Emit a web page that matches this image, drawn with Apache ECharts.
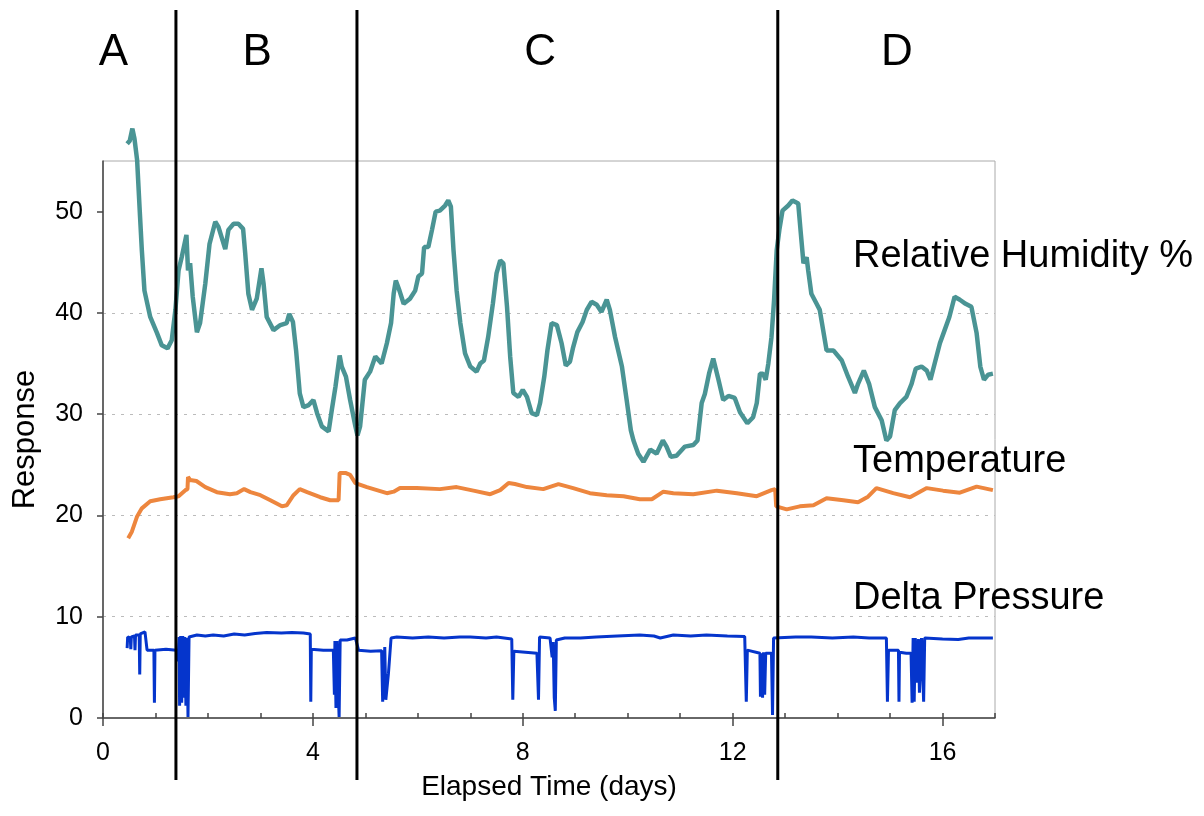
<!DOCTYPE html>
<html>
<head>
<meta charset="utf-8">
<script src="https://cdn.jsdelivr.net/npm/echarts@6/dist/echarts.min.js"></script>
<style>
  html, body { margin: 0; padding: 0; background: #fff; }
  #chart { width: 1204px; height: 816px; }
</style>
</head>
<body>
<div id="chart"></div>
<script>
const FONT = '"Liberation Sans", Arial, Helvetica, sans-serif'

// relative humidity %, [day, value]
const humidity = [
  [0.46,56.7],[0.51,57.0],[0.56,58.2],[0.60,57.2],[0.65,55.1],[0.70,50.1],[0.74,46.2],[0.79,42.2],[0.90,39.6],
  [1.03,38.0],[1.12,36.8],[1.23,36.5],[1.31,37.3],[1.38,40.3],[1.44,44.2],[1.50,45.5],[1.59,47.7],[1.62,44.2],
  [1.66,44.9],[1.71,41.6],[1.79,38.1],[1.85,39.0],[1.95,42.9],[2.03,46.8],[2.14,49.0],[2.20,48.5],[2.33,46.3],
  [2.39,48.2],[2.49,48.8],[2.58,48.8],[2.67,48.3],[2.71,45.9],[2.77,41.9],[2.84,40.3],[2.93,41.4],[3.02,44.4],
  [3.06,42.9],[3.12,39.6],[3.25,38.3],[3.38,38.8],[3.50,39.0],[3.55,39.9],[3.62,39.1],[3.68,36.3],[3.75,32.05],
  [3.82,30.7],[3.92,30.9],[4.01,31.4],[4.08,30.1],[4.17,28.8],[4.30,28.3],[4.36,30.4],[4.43,32.7],[4.51,35.8],
  [4.55,34.7],[4.63,33.7],[4.71,31.4],[4.81,28.8],[4.85,27.9],[4.90,28.8],[4.99,33.4],[5.09,34.2],[5.19,35.7],
  [5.31,35.0],[5.41,37.0],[5.49,39.0],[5.54,41.9],[5.58,43.2],[5.65,42.2],[5.73,40.9],[5.85,41.4],[5.95,42.2],
  [6.01,43.6],[6.08,43.9],[6.12,46.5],[6.20,46.5],[6.27,48.2],[6.34,50.0],[6.42,50.1],[6.52,50.6],[6.58,51.1],
  [6.63,50.5],[6.68,46.2],[6.74,42.2],[6.81,39.0],[6.90,36.0],[7.00,34.7],[7.12,34.2],[7.19,35.0],[7.26,35.3],
  [7.34,37.6],[7.43,40.9],[7.50,43.9],[7.57,45.2],[7.63,44.9],[7.70,40.6],[7.76,35.7],[7.82,32.1],[7.92,31.7],
  [8.00,32.4],[8.08,31.7],[8.17,30.1],[8.27,29.9],[8.33,31.1],[8.41,33.7],[8.47,36.3],[8.55,39.0],[8.65,38.8],
  [8.74,37.0],[8.82,34.8],[8.90,35.2],[8.96,36.6],[9.04,38.1],[9.14,39.1],[9.22,40.3],[9.31,41.1],[9.41,40.8],
  [9.50,40.1],[9.60,41.3],[9.66,40.3],[9.76,37.6],[9.89,34.7],[9.98,31.4],[10.06,28.4],[10.11,27.4],[10.20,26.1],
  [10.30,25.3],[10.43,26.5],[10.55,26.1],[10.67,27.4],[10.74,26.8],[10.82,25.8],[10.93,25.9],[11.09,26.8],
  [11.25,26.95],[11.33,27.4],[11.41,31.1],[11.47,32.0],[11.55,34.0],[11.63,35.5],[11.73,33.4],[11.82,31.4],
  [11.92,31.8],[12.04,31.6],[12.14,30.2],[12.28,29.1],[12.39,29.7],[12.46,31.1],[12.52,34.0],[12.58,34.0],
  [12.63,33.4],[12.68,35.0],[12.74,37.6],[12.79,41.3],[12.84,46.2],[12.89,48.2],[12.95,50.1],[13.06,50.6],
  [13.14,51.1],[13.25,50.8],[13.30,47.8],[13.35,44.9],[13.41,45.5],[13.44,44.2],[13.50,41.9],[13.60,40.9],
  [13.66,40.3],[13.79,36.3],[13.92,36.3],[14.08,35.3],[14.20,33.7],[14.33,32.1],[14.39,33.0],[14.50,34.3],
  [14.60,33.0],[14.71,30.7],[14.84,29.4],[14.93,27.4],[15.00,27.8],[15.09,30.4],[15.19,31.1],[15.31,31.7],
  [15.41,33.0],[15.49,34.5],[15.60,34.7],[15.70,34.3],[15.77,33.4],[15.85,35.0],[15.95,37.0],[16.04,38.3],
  [16.13,39.6],[16.23,41.6],[16.33,41.3],[16.44,40.9],[16.55,40.6],[16.65,38.0],[16.72,34.7],[16.79,33.4],
  [16.87,33.9],[16.96,34.0]
]

// temperature, [day, value]
const temperature = [
  [0.48,17.75],[0.55,18.4],[0.65,19.9],[0.74,20.7],[0.90,21.4],[1.09,21.6],[1.34,21.8],[1.44,21.9],[1.57,22.5],
  [1.61,22.6],[1.62,23.8],[1.66,23.5],[1.78,23.4],[1.95,22.8],[2.17,22.3],[2.42,22.1],[2.55,22.2],[2.69,22.6],
  [2.81,22.3],[3.00,22.0],[3.19,21.5],[3.41,20.9],[3.50,21.0],[3.63,22.0],[3.75,22.6],[3.89,22.3],[4.14,21.8],
  [4.33,21.5],[4.49,21.5],[4.51,24.2],[4.62,24.2],[4.71,24.0],[4.81,23.2],[5.03,22.8],[5.22,22.5],[5.41,22.2],
  [5.54,22.35],[5.66,22.7],[5.98,22.7],[6.42,22.6],[6.74,22.8],[7.06,22.45],[7.38,22.1],[7.57,22.5],[7.73,23.2],
  [7.85,23.1],[8.08,22.8],[8.39,22.6],[8.68,23.1],[8.96,22.7],[9.28,22.2],[9.60,22.0],[9.92,21.9],[10.23,21.6],
  [10.46,21.6],[10.68,22.35],[10.87,22.2],[11.25,22.1],[11.70,22.45],[12.08,22.2],[12.46,21.9],[12.74,22.5],
  [12.81,22.6],[12.83,20.9],[13.03,20.6],[13.28,20.9],[13.54,21.0],[13.79,21.7],[14.11,21.5],[14.39,21.3],
  [14.58,21.85],[14.74,22.7],[15.06,22.2],[15.38,21.8],[15.70,22.7],[16.01,22.45],[16.33,22.25],[16.65,22.85],
  [16.96,22.5]
]

// delta pressure, [day, value]
const deltaPressure = [
  [0.46,6.9],[0.47,8.0],[0.52,7.9],[0.53,6.8],[0.54,8.0],[0.60,8.1],[0.61,6.7],[0.62,8.2],[0.69,8.2],[0.70,4.3],
  [0.71,8.3],[0.80,8.5],[0.82,8.5],[0.84,6.7],[0.97,6.7],[0.98,1.5],[0.99,6.7],[1.20,6.8],[1.40,6.7],[1.43,5.6],
  [1.45,8.0],[1.46,1.2],[1.48,8.1],[1.50,1.5],[1.52,8.1],[1.54,2.0],[1.56,8.0],[1.58,1.2],[1.60,7.9],[1.62,0.1],
  [1.64,8.0],[1.79,8.2],[1.95,8.1],[2.10,8.2],[2.30,8.1],[2.50,8.3],[2.70,8.2],[2.90,8.35],[3.12,8.45],[3.40,8.4],
  [3.60,8.45],[3.82,8.4],[3.95,8.3],[3.96,1.6],[3.97,6.8],[4.20,6.7],[4.39,6.7],[4.41,2.3],[4.42,7.6],[4.44,1.0],
  [4.46,7.6],[4.48,3.0],[4.50,0.1],[4.52,7.7],[4.65,7.7],[4.81,7.9],[4.87,6.7],[5.10,6.6],[5.31,6.65],[5.33,1.6],
  [5.35,1.7],[5.37,7.0],[5.39,1.8],[5.42,1.9],[5.44,4.4],[5.47,4.4],[5.49,7.9],[5.60,8.0],[5.90,7.9],[6.20,8.0],
  [6.50,7.9],[6.80,8.0],[7.00,8.0],[7.30,7.9],[7.50,8.0],[7.79,7.8],[7.81,1.8],[7.83,6.6],[8.05,6.5],[8.27,6.4],
  [8.30,1.8],[8.32,8.0],[8.52,7.9],[8.56,6.0],[8.58,7.5],[8.60,2.0],[8.62,0.7],[8.64,7.7],[8.80,7.9],[9.10,7.9],
  [9.40,8.0],[9.80,8.1],[10.23,8.2],[10.50,8.1],[10.62,7.9],[10.87,8.2],[11.20,8.1],[11.50,8.2],[11.90,8.1],
  [12.23,8.05],[12.26,1.6],[12.28,6.7],[12.52,6.4],[12.53,2.1],[12.55,6.4],[12.57,2.0],[12.59,6.5],[12.61,2.3],
  [12.63,6.4],[12.74,6.4],[12.76,0.3],[12.78,7.9],[13.20,8.0],[13.50,8.0],[13.90,7.9],[14.30,8.0],[14.60,7.9],
  [14.93,7.9],[14.95,1.6],[14.97,6.7],[15.16,6.7],[15.17,1.6],[15.18,6.5],[15.31,6.4],[15.40,6.4],[15.42,1.5],
  [15.44,7.9],[15.46,1.6],[15.48,7.9],[15.50,3.5],[15.52,4.6],[15.54,7.8],[15.56,2.5],[15.60,7.9],[15.64,1.6],
  [15.66,7.9],[16.00,7.8],[16.30,7.75],[16.50,7.9],[16.96,7.9]
]

const xTicks = [0, 4, 8, 12, 16]
const yTicks = [0, 10, 20, 30, 40, 50]

// phase boundaries (days) and phase letters
const phaseBoundaries = [1.39, 4.84, 12.86]
const phaseNames = ['A', 'B', 'C', 'D']
const phaseLabelDays = [0.2, 2.94, 8.33, 15.13]

const seriesNames = ['Relative Humidity %', 'Temperature', 'Delta Pressure']
const seriesLabelY = [257, 462, 599]

const chart = echarts.init(document.getElementById('chart'))

const axisColor = '#444'

chart.setOption({
  animation: false,
  grid: {
    left: 103, right: 209, top: 161, bottom: 98,
    show: true, borderColor: '#aaa', borderWidth: 1
  },
  xAxis: [
    {
      type: 'value', min: 0, max: 17, interval: 4,
      axisLine: { show: true, lineStyle: { color: axisColor, width: 1.5 } },
      axisTick: { show: true, customValues: xTicks, length: 8, lineStyle: { color: axisColor, width: 1.5 } },
      axisLabel: { customValues: xTicks, fontSize: 25, color: '#000', margin: 23, fontFamily: FONT },
      splitLine: { show: false },
      name: 'Elapsed Time (days)', nameLocation: 'middle', nameGap: 55,
      nameTextStyle: { fontSize: 28, color: '#000', fontFamily: FONT }
    },
    {
      type: 'value', min: 0, max: 17, interval: 1, position: 'bottom',
      axisLine: { show: false },
      axisTick: { show: true, inside: true, length: 5, lineStyle: { color: axisColor, width: 1.5 } },
      axisLabel: { show: false },
      splitLine: { show: false }
    }
  ],
  yAxis: {
    type: 'value', min: 0, max: 55, interval: 10,
    axisLine: { show: true, lineStyle: { color: axisColor, width: 1.5 } },
    axisTick: { show: true, customValues: yTicks, length: 6, lineStyle: { color: axisColor, width: 1.5 } },
    axisLabel: { customValues: yTicks, fontSize: 25, color: '#000', margin: 20, fontFamily: FONT },
    splitLine: {
      show: true, showMinLine: false, showMaxLine: false,
      lineStyle: { color: '#bbb', type: [3, 6], width: 1 }
    },
    name: 'Response', nameLocation: 'middle', nameGap: 62,
    nameTextStyle: { fontSize: 31, color: '#000', fontFamily: FONT }
  },
  series: [
    {
      name: seriesNames[0], type: 'line', data: humidity, showSymbol: false, clip: false,
      lineStyle: { color: '#4a9494', width: 4.5 }, z: 3
    },
    {
      name: seriesNames[1], type: 'line', data: temperature, showSymbol: false, clip: false,
      lineStyle: { color: '#ed863e', width: 4 }, z: 3
    },
    {
      name: seriesNames[2], type: 'line', data: deltaPressure, showSymbol: false, clip: false,
      lineStyle: { color: '#0535cc', width: 3 }, z: 3
    }
  ]
})

// phase lines, letters and series labels drawn as graphics
const graphics = []
phaseBoundaries.forEach(d => {
  const x = chart.convertToPixel({ gridIndex: 0 }, [d, 0])[0]
  graphics.push({
    type: 'line', z: 10,
    shape: { x1: x, y1: 10, x2: x, y2: 780 },
    style: { stroke: '#000', lineWidth: 3 }
  })
})
phaseNames.forEach((t, i) => {
  const x = chart.convertToPixel({ gridIndex: 0 }, [phaseLabelDays[i], 0])[0]
  graphics.push({
    type: 'text', z: 10, x: x, y: 53,
    style: { text: t, fontSize: 44, fontFamily: FONT, fill: '#000', align: 'center', verticalAlign: 'middle' }
  })
})
seriesNames.forEach((t, i) => {
  graphics.push({
    type: 'text', z: 10, x: 853, y: seriesLabelY[i],
    style: { text: t, fontSize: 38, fontFamily: FONT, fill: '#000', align: 'left', verticalAlign: 'middle' }
  })
})
chart.setOption({ graphic: graphics })
</script>
</body>
</html>
